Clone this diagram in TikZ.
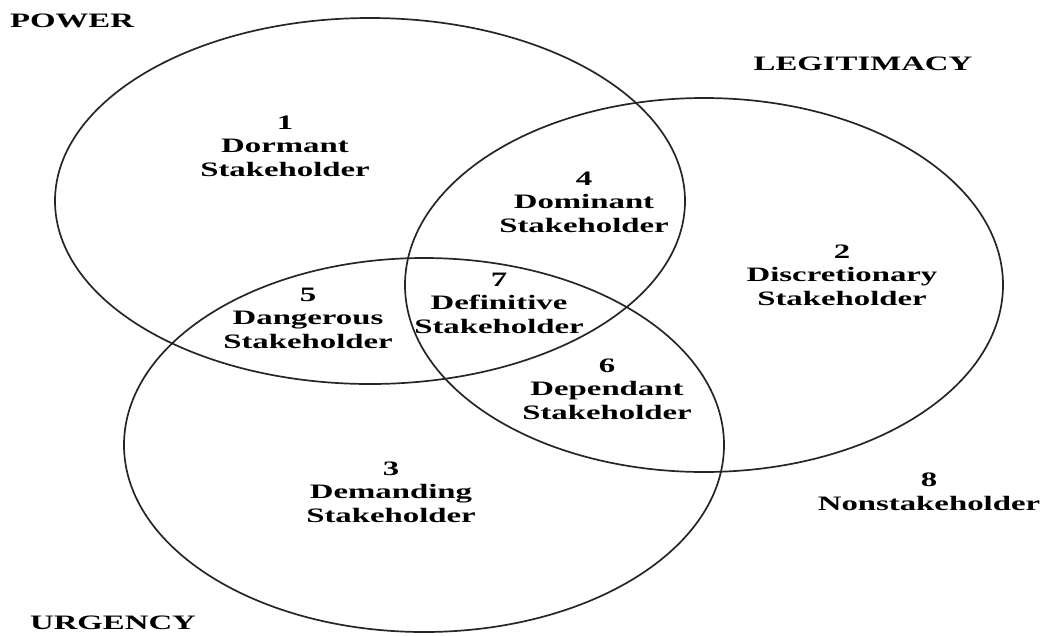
\documentclass[tikz,border=0pt]{standalone}
\usepackage{fontspec}
\setmainfont{Liberation Serif}
\begin{document}
\begin{tikzpicture}[x=1pt,y=-1pt,
  ring/.style={draw=black!85, line width=1.7pt},
  lab/.style={align=center, inner sep=0pt, font=\bfseries\fontsize{20.5}{23.5}\selectfont,
              xscale=1.6, transform shape},
  title/.style={inner sep=0pt, font=\bfseries\fontsize{20.5}{23}\selectfont,
              xscale=1.6, transform shape}]
  \useasboundingbox (0,0) rectangle (1043,635);
  \fill[white] (0,0) rectangle (1043,635);

  % the three attribute sets
  \draw[ring] (370,201) ellipse [x radius=315, y radius=183];
  \draw[ring] (704,285) ellipse [x radius=299, y radius=187];
  \draw[ring] (424,445) ellipse [x radius=300, y radius=187];

  % set names
  \node[title] (power) at (72,21) {POWER};
  \node[title] (legit) at (863,64) {LEGITIMACY};
  \node[title] (urgency) at (113,623) {URGENCY};

  % stakeholder classes
  \node[lab] (s1) at (285,146) {1\\Dormant\\Stakeholder};
  \node[lab] (s2) at (842,275) {2\\Discretionary\\Stakeholder};
  \node[lab] (s3) at (391,492) {3\\Demanding\\Stakeholder};
  \node[lab] (s4) at (584,202) {4\\Dominant\\Stakeholder};
  \node[lab] (s5) at (308,318) {5\\Dangerous\\Stakeholder};
  \node[lab] (s6) at (607,389) {6\\Dependant\\Stakeholder};
  \node[lab] (s7) at (499,303) {7\\Definitive\\Stakeholder};
  \node[lab] (s8) at (929,492) {8\\Nonstakeholder};
\end{tikzpicture}
\end{document}
